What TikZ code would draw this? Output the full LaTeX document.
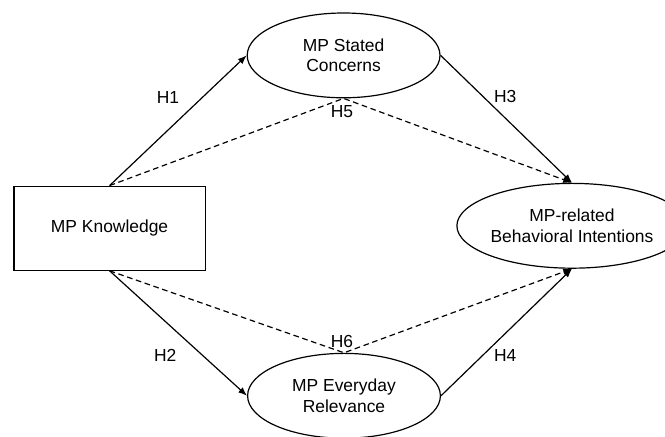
\documentclass[tikz,border=0pt]{standalone}
\usepackage{fontspec}
\setmainfont{Liberation Sans}
\usepackage{tikz}
\usetikzlibrary{arrows.meta, positioning, shapes.geometric}

\begin{document}
\begin{tikzpicture}[
  font=\fontsize{12.4}{14.6}\selectfont,
  line width=0.85pt,
  construct/.style={ellipse, draw, align=center, inner sep=0pt, minimum width=4.82cm, minimum height=2.12cm},
  direct/.style={-{Latex[length=2.2mm, width=1.7mm]}},
  indirect/.style={dash pattern=on 4pt off 2.6pt, -{Latex[length=2.2mm, width=1.7mm]}}
]
\useasboundingbox (0,0) rectangle (16.625,10.925);
\node [rectangle, draw, minimum width=4.78cm, minimum height=2.1cm] (know) at (2.74,5.22) {MP Knowledge};
\node [construct] (concern) at (8.59,9.54) {MP Stated\\Concerns};
\node [construct] (relev) at (8.6,1.03) {MP Everyday\\Relevance};
\node [construct, minimum width=4.6cm] (intent) at (14.3,5.28) {MP-related\\Behavioral Intentions};

\draw [direct] (know.north) -- (concern.west);
\draw [direct] (know.south) -- (relev.west);
\draw [direct] (concern.east) -- (intent.north);
\draw [direct] (relev.east) -- (intent.south);
\draw [indirect] (know.north) -- (concern.south) -- (intent.north);
\draw [indirect] (know.south) -- (relev.north) -- (intent.south);

\node (h1) at (4.2,8.48) {H1};
\node (h2) at (4.13,2.03) {H2};
\node (h3) at (12.63,8.5) {H3};
\node (h4) at (12.63,2.03) {H4};
\node (h5) at (8.55,8.13) {H5};
\node (h6) at (8.55,2.38) {H6};
\end{tikzpicture}
\end{document}
